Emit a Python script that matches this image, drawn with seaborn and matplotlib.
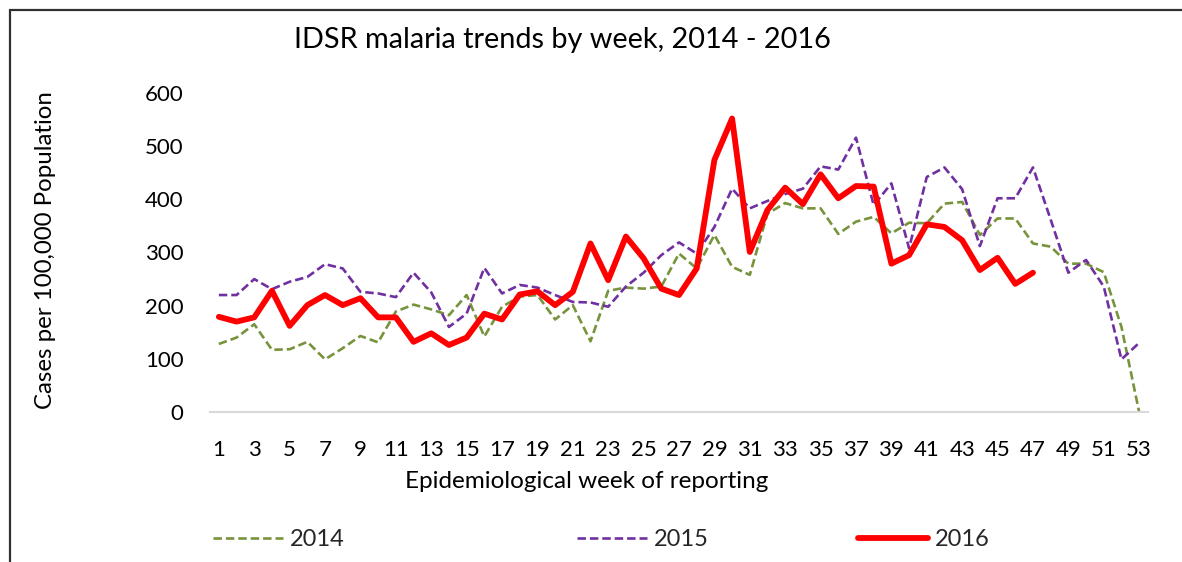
import pandas as pd
import seaborn as sns
import matplotlib.pyplot as plt
from matplotlib.lines import Line2D

# weekly malaria cases per 100,000
weeks = list(range(1, 54))
cases_2014 = [128, 140, 165, 117, 118, 132, 99, 120, 143, 131,
              189, 202, 193, 182, 220, 142, 198, 217, 220, 174,
              201, 133, 228, 234, 232, 236, 298, 270, 333, 273,
              258, 373, 393, 383, 383, 335, 358, 367, 336, 356,
              355, 392, 395, 333, 364, 364, 317, 311, 279, 279,
              263, 160, 0]
cases_2015 = [220, 220, 250, 231, 245, 254, 278, 270, 226, 223,
              216, 262, 225, 160, 185, 271, 223, 239, 234, 220,
              207, 206, 198, 236, 262, 295, 319, 298, 348, 420,
              383, 397, 410, 420, 462, 456, 516, 389, 430, 308,
              442, 460, 419, 312, 402, 402, 460, 362, 262, 286,
              236, 99, 130]
cases_2016 = [179, 170, 178, 228, 162, 201, 220, 201, 214, 178,
              178, 132, 148, 126, 140, 185, 174, 221, 227, 201,
              226, 317, 248, 330, 289, 232, 220, 270, 474, 552,
              301, 380, 422, 391, 447, 402, 425, 424, 279, 295,
              353, 348, 323, 267, 290, 241, 262]
week_ticks = list(range(1, 54, 2))
y_ticks = [0, 100, 200, 300, 400, 500, 600]

df14 = pd.DataFrame({"week": weeks, "cases": cases_2014})
df15 = pd.DataFrame({"week": weeks, "cases": cases_2015})
df16 = pd.DataFrame({"week": weeks[:len(cases_2016)], "cases": cases_2016})

sns.set_theme(style="white")
plt.rcParams['font.family'] = ['Lato', 'DejaVu Sans']

fig = plt.figure(figsize=(11.82, 5.62), dpi=100)
ax = fig.add_axes([210 / 1182, 1 - 412 / 562, 938 / 1182, 319 / 562])

sns.lineplot(data=df14, x="week", y="cases", ax=ax, color="#77933C",
             linewidth=1.9, label="2014")
sns.lineplot(data=df15, x="week", y="cases", ax=ax, color="#7030A0",
             linewidth=1.9, label="2015")
sns.lineplot(data=df16, x="week", y="cases", ax=ax, color="#FF0000",
             linewidth=4.2, label="2016")

# Excel style dashes for the older years
for ln in ax.lines[:2]:
    ln.set_dashes((3.2, 1.5))
for ln in ax.lines:
    ln.set_solid_joinstyle("round")
    ln.set_solid_capstyle("round")

ax.set_xlim(0.5, 53.5)
ax.set_ylim(0, 600)
ax.set_xticks(week_ticks)
ax.set_yticks(y_ticks)
ax.tick_params(axis="x", length=0, pad=20, labelsize=16, colors="black")
ax.tick_params(axis="y", length=0, pad=19, labelsize=16, colors="black")

for side in ["top", "right", "left"]:
    ax.spines[side].set_visible(False)
ax.spines["bottom"].set_color("#d9d9d9")
ax.spines["bottom"].set_linewidth(1.5)

ax.set_xlabel("Epidemiological week of reporting", fontsize=17.5, color="black")
ax.set_ylabel("Cases per 100,000 Population", fontsize=17.3, color="black")
ax.xaxis.set_label_coords((587 - 210) / 938, (412 - 471) / 319)
ax.yaxis.set_label_coords((56 - 210) / 938, (412 - 250) / 319)

fig.text(562 / 1182, 1 - 40 / 562, "IDSR malaria trends by week, 2014 - 2016",
         ha="center", va="center", fontsize=20.8, color="black")

# one legend per entry, spaced like the original
handles, labels = ax.get_legend_handles_labels()
ax.get_legend().remove()
legend_x = [213, 577, 858]
for h, lab, x in zip(handles, labels, legend_x):
    leg = fig.legend([h], [lab], loc="center left",
                     bbox_to_anchor=(x / 1182, 1 - 540 / 562),
                     frameon=False, fontsize=17, handlelength=2.95,
                     handletextpad=0.3, borderpad=0, borderaxespad=0)

# chart frame edge, as in the original screenshot
fig.add_artist(Line2D([10 / 1182, 1], [1 - 10 / 562, 1 - 10 / 562],
                      transform=fig.transFigure, color="#303030", lw=1.6))
fig.add_artist(Line2D([10 / 1182, 10 / 1182], [0, 1 - 10 / 562],
                      transform=fig.transFigure, color="#303030", lw=1.6))

fig.savefig("out.png", dpi=100)
